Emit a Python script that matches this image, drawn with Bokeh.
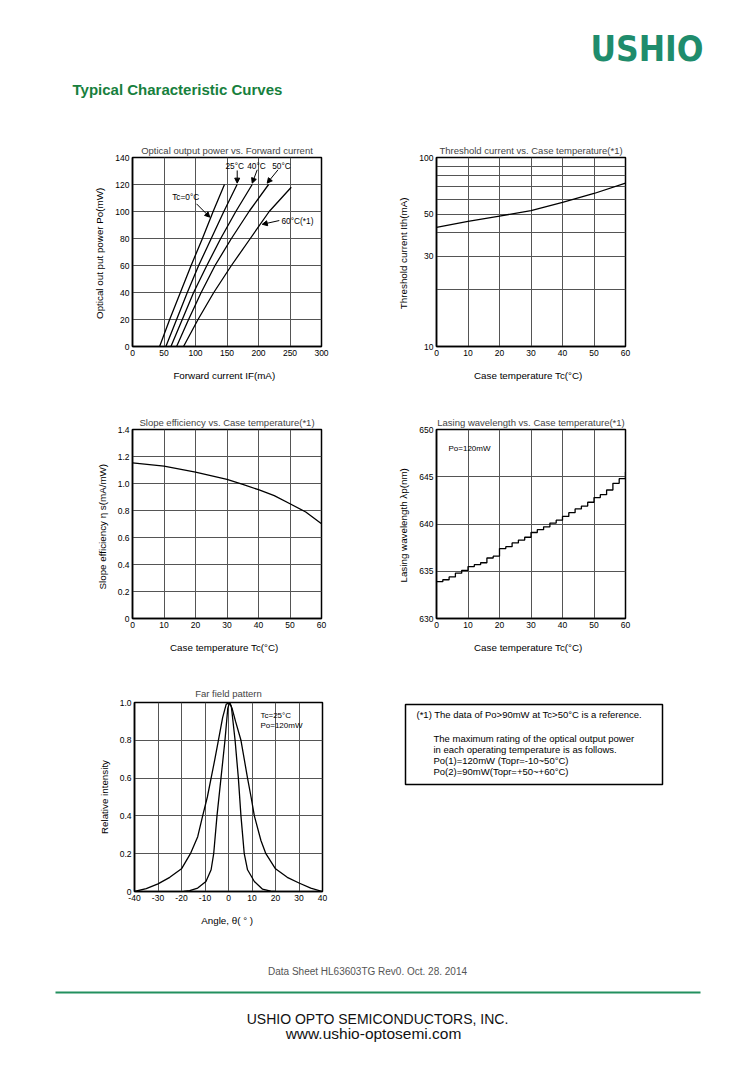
from bokeh.plotting import figure
from bokeh.layouts import column, row
from bokeh.models import Range1d, FixedTicker, CustomJSTickFormatter, Arrow, NormalHead
from bokeh.core.properties import value
from bokeh.embed import file_html
from bokeh.resources import INLINE

FONT = "Liberation Sans"

# ---------------- data ----------------
# Chart 1: Optical output power vs. forward current (x = If mA at given Po)
po_mw = [0, 20, 40, 60, 80, 100, 120]
if_tc0 = [43, 59, 76, 93, 111, 128, 146]
if_tc25 = [53, 70, 87, 105, 125, 145, 166]
if_tc40 = [61, 79, 97, 118, 140, 164, 190]
if_tc50 = [70, 89, 109, 131, 157, 185, 216]
po_mw_60 = [0, 20, 40, 60, 80, 100, 118]
if_tc60 = [81, 104, 129, 157, 187, 217, 252]
c1_labels = ["Tc=0°C", "25°C", "40°C", "50°C", "60°C(*1)"]
c1_label_x = [63, 147.6, 182, 221.7, 236.5]
c1_label_y = [110.6, 134, 134, 134, 92.6]
c1_arrow_x0 = [101.6, 166.2, 198, 231, 233]
c1_arrow_y0 = [105.7, 130.4, 130.9, 130.9, 93.3]
c1_arrow_x1 = [122.7, 166.2, 190, 213.8, 206]
c1_arrow_y1 = [95.8, 121, 121, 121, 90.5]

# Chart 2: Threshold current vs. case temperature
tc2 = [0, 10, 20, 30, 40, 50, 60]
ith_ma = [42.7, 45.9, 49.0, 52.3, 57.8, 64.5, 73.2]

# Chart 3: Slope efficiency vs. case temperature
tc3 = [0, 10, 20, 30, 35, 40, 45, 50, 55, 60]
eta_s = [1.153, 1.129, 1.085, 1.030, 0.993, 0.954, 0.91, 0.850, 0.789, 0.702]

# Chart 4: Lasing wavelength vs. case temperature (stepped)
tc4 = [0, 2, 4, 6, 8, 10, 12, 14, 16, 18, 20, 22, 24, 26, 28, 30, 32, 34, 36, 38,
       40, 42, 44, 46, 48, 50, 52, 54, 56, 58, 60]
wl_nm = [633.9, 634.1, 634.4, 634.8, 635.1, 635.5, 635.7, 635.9, 636.4, 636.6,
         637.4, 637.6, 638.0, 638.3, 638.6, 639.1, 639.4, 639.7, 640.1, 640.4,
         640.8, 641.2, 641.6, 641.9, 642.3, 642.8, 643.1, 643.6, 644.3, 644.8, 645.5]

# Chart 5: Far field pattern
narrow_deg = [-19, -16.5, -13.1, -9.6, -7.4, -6.3, -4.9, -3.2, -1.5, -0.3, 0.5, 1.2,
              2.8, 4.2, 5.3, 6.7, 8.1, 11, 14.5, 18, 20]
narrow_int = [0, 0.005, 0.018, 0.053, 0.115, 0.2, 0.4, 0.6, 0.8, 0.97, 1.0, 0.98,
              0.8, 0.6, 0.4, 0.2, 0.115, 0.053, 0.012, 0.002, 0]
wide_deg = [-40, -35, -30, -25, -20, -16.2, -13.1, -11, -9, -7.4, -5.8, -4.3, -2.5, -1,
            0.3, 1.5, 3, 5.3, 6.7, 8.1, 9.6, 11, 13.8, 15.9, 20, 25, 30, 35, 40]
wide_int = [0, 0.015, 0.04, 0.075, 0.12, 0.2, 0.29, 0.4, 0.5, 0.6, 0.7, 0.8, 0.92, 0.99,
            1.0, 0.97, 0.9, 0.8, 0.7, 0.6, 0.5, 0.4, 0.27, 0.2, 0.12, 0.075, 0.045, 0.018, 0]

note_lines = ["(*1) The data of Po>90mW at Tc>50°C is a reference.",
              "The maximum rating of the optical output power",
              "in each operating temperature is as follows.",
              "Po(1)=120mW (Topr=-10~50°C)",
              "Po(2)=90mW(Topr=+50~+60°C)"]

GRID = "#555555"
INT_FMT = CustomJSTickFormatter(code="return tick.toFixed(0);")
DEC_FMT = CustomJSTickFormatter(code="return tick == 0 ? '0' : tick.toFixed(1);")


def chart(width, height, left, right, top, bottom, xr, yr, title, xlabel, ylabel,
          xticks, yticks, yfmt, y_axis_type="linear", ygrid_ticks=None, title_standoff=4):
    p = figure(width=width, height=height, x_range=Range1d(*xr), y_range=Range1d(*yr),
               y_axis_type=y_axis_type, output_backend="svg", toolbar_location=None,
               min_border_left=left, min_border_right=right,
               min_border_top=top, min_border_bottom=bottom)
    p.title.text = title
    p.title.align = "center"
    p.title.text_font = FONT
    p.title.text_font_size = "9.5px"
    p.title.text_font_style = "normal"
    p.title.standoff = title_standoff
    p.outline_line_color = "black"
    p.outline_line_width = 1.5
    p.outline_line_alpha = 1
    for ax in (p.xaxis[0], p.yaxis[0]):
        ax.axis_line_color = "black"
        ax.axis_line_width = 1.5
        ax.major_tick_line_color = None
        ax.minor_tick_line_color = None
        ax.major_tick_out = 0
        ax.major_tick_in = 0
        ax.minor_tick_out = 0
        ax.minor_tick_in = 0
        ax.major_label_text_font = FONT
        ax.major_label_text_font_size = "8.5px"
        ax.major_label_text_color = "black"
        ax.major_label_standoff = 3
        ax.axis_label_text_font = FONT
        ax.axis_label_text_font_size = "9.8px"
        ax.axis_label_text_font_style = "normal"
        ax.axis_label_text_color = "black"
    p.xaxis[0].axis_label_standoff = 11
    p.yaxis[0].axis_label_standoff = 7
    p.xaxis[0].axis_label = xlabel
    p.yaxis[0].axis_label = ylabel
    p.xaxis[0].ticker = FixedTicker(ticks=xticks)
    p.yaxis[0].ticker = FixedTicker(ticks=yticks)
    p.xaxis[0].formatter = INT_FMT
    p.yaxis[0].formatter = yfmt
    p.xgrid[0].ticker = FixedTicker(ticks=xticks)
    p.ygrid[0].ticker = FixedTicker(ticks=ygrid_ticks if ygrid_ticks else yticks)
    for g in (p.xgrid[0], p.ygrid[0]):
        g.grid_line_color = GRID
        g.grid_line_width = 1
    return p


def add_text(p, xs, ys, texts, size, align="left"):
    p.text(x=xs, y=ys, text=texts, text_font=value(FONT), text_font_size=size,
           text_color="black", text_align=align, text_baseline="middle")


# ---------------- chart 1 ----------------
f1 = chart(380, 275, 132, 59, 37, 49, (0, 300), (0, 140),
           "Optical output power vs. Forward current", "Forward current   IF(mA)",
           "Optical out put power  Po(mW)", [0, 50, 100, 150, 200, 250, 300],
           [0, 20, 40, 60, 80, 100, 120, 140], INT_FMT)
for xs, ys in [(if_tc0, po_mw), (if_tc25, po_mw), (if_tc40, po_mw), (if_tc50, po_mw),
               (if_tc60, po_mw_60)]:
    f1.line(xs, ys, line_color="black", line_width=1.3)
add_text(f1, c1_label_x, c1_label_y, c1_labels, "8.3px")
for i in range(len(c1_arrow_x0)):
    f1.add_layout(Arrow(x_start=c1_arrow_x0[i], y_start=c1_arrow_y0[i],
                        x_end=c1_arrow_x1[i], y_end=c1_arrow_y1[i], line_width=1,
                        end=NormalHead(size=5, fill_color="black", line_color="black")))

# ---------------- chart 2 ----------------
f2 = chart(374, 275, 56, 129, 37, 49, (0, 60), (10, 100),
           "Threshold current vs. Case temperature(*1)", "Case temperature   Tc(°C)",
           "Threshold current  Ith(mA)", [0, 10, 20, 30, 40, 50, 60],
           [10, 30, 50, 100], INT_FMT, y_axis_type="log",
           ygrid_ticks=[20, 30, 40, 50, 60, 70, 80, 90])
f2.line(tc2, ith_ma, line_color="black", line_width=1.3)

# ---------------- chart 3 ----------------
f3 = chart(380, 270, 132, 59, 34, 47, (0, 60), (0, 1.4),
           "Slope efficiency vs. Case temperature(*1)", "Case temperature   Tc(°C)",
           "Slope efficiency   η s(mA/mW)", [0, 10, 20, 30, 40, 50, 60],
           [0, 0.2, 0.4, 0.6, 0.8, 1.0, 1.2, 1.4], DEC_FMT)
f3.line(tc3, eta_s, line_color="black", line_width=1.3)

# ---------------- chart 4 ----------------
f4 = chart(374, 270, 56, 129, 34, 47, (0, 60), (630, 650),
           "Lasing wavelength vs. Case temperature(*1)", "Case temperature   Tc(°C)",
           "Lasing wavelength  λp(nm)", [0, 10, 20, 30, 40, 50, 60],
           [630, 635, 640, 645, 650], INT_FMT)
f4.step(tc4, wl_nm, mode="after", line_color="black", line_width=1.3)
add_text(f4, [3.8], [648], ["Po=120mW"], "8px")

# ---------------- chart 5 ----------------
f5 = chart(380, 270, 134, 58, 37, 44, (-40, 40), (0, 1.0),
           "Far field pattern", "Angle,  θ( ° )", "Relative intensity",
           [-40, -30, -20, -10, 0, 10, 20, 30, 40], [0, 0.2, 0.4, 0.6, 0.8, 1.0], DEC_FMT,
           title_standoff=7)
f5.line(wide_deg, wide_int, line_color="black", line_width=1.3)
f5.line(narrow_deg, narrow_int, line_color="black", line_width=1.3)
add_text(f5, [13.6, 13.6], [0.931, 0.878], ["Tc=25°C", "Po=120mW"], "8px")


# ---------------- page decorations ----------------
def blank(width, height, xr, yr, **kw):
    p = figure(width=width, height=height, x_range=Range1d(*xr), y_range=Range1d(*yr),
               output_backend="svg", toolbar_location=None, x_axis_location=None,
               y_axis_location=None, **kw)
    p.grid.visible = False
    p.outline_line_color = None
    return p


hdr = blank(754, 120, (0, 754), (120, 0), min_border=0)
hdr.text(x=[590], y=[48], text=["USHIO"],
         text_font=value("'Liberation Sans Narrow', 'DejaVu Sans Condensed', sans-serif"),
         text_font_size="35px", text_font_style="bold", text_color="#1f8c6c",
         text_align="left", text_baseline="middle")
hdr.text(x=[72], y=[89], text=["Typical Characteristic Curves"], text_font=value(FONT),
         text_font_size="15px", text_font_style="bold", text_color="#17803d",
         text_align="left", text_baseline="middle")

# note box: same vertical borders as chart 5 so the row keeps both frames aligned
note = blank(374, 270, (380, 754), (891, 702), min_border_left=0, min_border_right=0,
             min_border_top=37, min_border_bottom=44)
note.quad(left=[405], right=[662], top=[704], bottom=[784], fill_color=None,
          line_color="black", line_width=1.5)
note.text(x=[416, 433, 433, 433, 433], y=[714, 738, 749, 760, 771], text=note_lines,
          text_font=value(FONT), text_font_size="9.5px", text_color="black",
          text_align="left", text_baseline="middle")

ftr = blank(754, 125, (0, 754), (1060, 935), min_border=0)
ftr.text(x=[367], y=[971], text=["Data Sheet HL63603TG Rev0. Oct. 28. 2014"],
         text_font=value(FONT), text_font_size="10px", text_color="#555555",
         text_align="center", text_baseline="middle")
ftr.line(x=[55, 700], y=[992, 992], line_color="#23905f", line_width=2)
ftr.text(x=[377], y=[1018], text=["USHIO OPTO SEMICONDUCTORS, INC."], text_font=value(FONT),
         text_font_size="14px", text_color="#111111", text_align="center",
         text_baseline="middle")
ftr.text(x=[373], y=[1033], text=["www.ushio-optosemi.com"], text_font=value(FONT),
         text_font_size="15.5px", text_color="#111111", text_align="center",
         text_baseline="middle")

layout = column(hdr, row(f1, f2), row(f3, f4), row(f5, note), ftr)

with open("out.html", "w") as fh:
    fh.write(file_html(layout, INLINE))
